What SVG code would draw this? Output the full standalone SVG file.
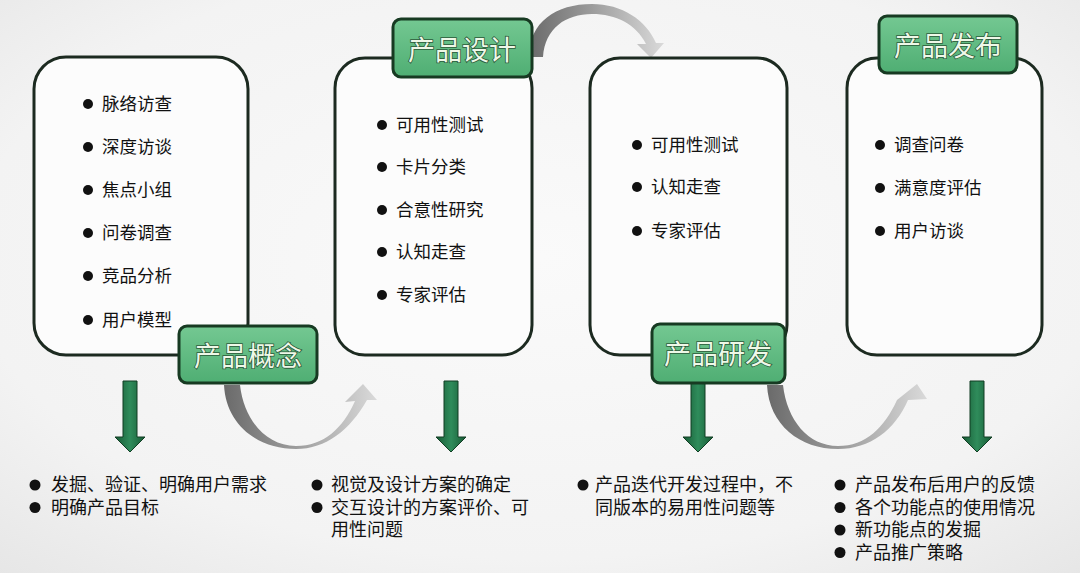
<svg xmlns="http://www.w3.org/2000/svg" width="1080" height="573" viewBox="0 0 1080 573">
  <defs>
    <radialGradient id="bg" cx="0.5" cy="0.45" r="0.75">
      <stop offset="0" stop-color="#fafafa"/>
      <stop offset="0.7" stop-color="#f3f3f3"/>
      <stop offset="1" stop-color="#e6e6e6"/>
    </radialGradient>
    <linearGradient id="lbl" x1="0" y1="0" x2="0" y2="1">
      <stop offset="0" stop-color="#74c892"/>
      <stop offset="1" stop-color="#4fae73"/>
    </linearGradient>
    <linearGradient id="down" x1="0" y1="0" x2="1" y2="0">
      <stop offset="0" stop-color="#175a35"/>
      <stop offset="0.5" stop-color="#2f8c5b"/>
      <stop offset="1" stop-color="#175a35"/>
    </linearGradient>
    <linearGradient id="curve" x1="0" y1="0" x2="1" y2="0">
      <stop offset="0" stop-color="#6a6a6a"/>
      <stop offset="0.45" stop-color="#9a9a9a"/>
      <stop offset="1" stop-color="#dadada"/>
    </linearGradient>
    <style>
      .box { fill: #fcfcfc; stroke: #1c2a20; stroke-width: 3; }
      .lbl { fill: url(#lbl); stroke: #173a22; stroke-width: 3; }
      .lt { font-family: "Noto Sans CJK SC", "Noto Sans", sans-serif; font-size: 27px; fill: #eef8e8; stroke: #2c5a3a; stroke-width: 1.6; paint-order: stroke; text-anchor: middle; }
      .it { font-family: "Noto Sans CJK SC", "Noto Sans", sans-serif; font-size: 17.5px; fill: #111; }
      .bt { font-family: "Noto Sans CJK SC", "Noto Sans", sans-serif; font-size: 18px; fill: #111; }
      .dot { fill: #111; }
      .down { fill: url(#down); stroke: #113d23; stroke-width: 1; }
      .curve { fill: url(#curve); }
    </style>
  </defs>
  <rect x="0" y="0" width="1080" height="573" fill="url(#bg)"/>

  <g id="connectors">
    <path class="curve" d="M 529 57 C 529 22 556 4 592 4 C 622 4 646 20 656 43 L 664 43 L 651 58 L 637 44 L 646 44 C 636 24 616 14 592 14 C 566 14 545 28 543 57 Z"/>
    <path class="curve" d="M 224 385 C 226 425 258 449 296 449 C 326 449 350 430 367 400 L 377 400 L 363 384 L 345 402 L 355 401 C 343 428 324 446 296 446 C 266 446 244 420 240 385 Z"/>
    <path class="curve" d="M 767 385 C 769 425 800 449 838 449 C 870 449 895 430 908 400 L 927 399 L 917 384 L 897 400 L 897 400 C 884 428 866 446 838 446 C 808 446 787 420 783 385 Z"/>
    <path class="down" d="M 123 381 H 137 V 437 H 145 L 130 452 L 115 437 H 123 Z"/>
    <path class="down" d="M 444 381 H 458 V 437 H 466 L 451 452 L 436 437 H 444 Z"/>
    <path class="down" d="M 691 381 H 705 V 437 H 713 L 698 452 L 683 437 H 691 Z"/>
    <path class="down" d="M 970 381 H 984 V 437 H 992 L 977 452 L 962 437 H 970 Z"/>
  </g>

  <g id="node-concept">
    <rect class="box" x="34" y="57" width="214" height="298" rx="32"/>
    <circle class="dot" cx="88" cy="104" r="5"/><text class="it" x="102" y="110">脉络访查</text>
    <circle class="dot" cx="88" cy="147" r="5"/><text class="it" x="102" y="153">深度访谈</text>
    <circle class="dot" cx="88" cy="190" r="5"/><text class="it" x="102" y="196">焦点小组</text>
    <circle class="dot" cx="88" cy="233" r="5"/><text class="it" x="102" y="239">问卷调查</text>
    <circle class="dot" cx="88" cy="276" r="5"/><text class="it" x="102" y="282">竞品分析</text>
    <circle class="dot" cx="88" cy="320" r="5"/><text class="it" x="102" y="326">用户模型</text>
    <rect class="lbl" x="179" y="326" width="138" height="57" rx="8"/>
    <text class="lt" x="248" y="366">产品概念</text>
  </g>

  <g id="node-design">
    <rect class="box" x="335" y="58" width="197" height="297" rx="30"/>
    <circle class="dot" cx="382" cy="125" r="5"/><text class="it" x="396" y="131">可用性测试</text>
    <circle class="dot" cx="382" cy="167" r="5"/><text class="it" x="396" y="173">卡片分类</text>
    <circle class="dot" cx="382" cy="210" r="5"/><text class="it" x="396" y="216">合意性研究</text>
    <circle class="dot" cx="382" cy="252" r="5"/><text class="it" x="396" y="258">认知走查</text>
    <circle class="dot" cx="382" cy="295" r="5"/><text class="it" x="396" y="301">专家评估</text>
    <rect class="lbl" x="393" y="19" width="139" height="58" rx="8"/>
    <text class="lt" x="462" y="60">产品设计</text>
  </g>

  <g id="node-dev">
    <rect class="box" x="590" y="58" width="197" height="297" rx="30"/>
    <circle class="dot" cx="637" cy="145" r="5"/><text class="it" x="651" y="151">可用性测试</text>
    <circle class="dot" cx="637" cy="187" r="5"/><text class="it" x="651" y="193">认知走查</text>
    <circle class="dot" cx="637" cy="231" r="5"/><text class="it" x="651" y="237">专家评估</text>
    <rect class="lbl" x="652" y="324" width="133" height="59" rx="8"/>
    <text class="lt" x="718" y="364">产品研发</text>
  </g>

  <g id="node-release">
    <rect class="box" x="847" y="58" width="195" height="297" rx="30"/>
    <circle class="dot" cx="880" cy="145" r="5"/><text class="it" x="894" y="151">调查问卷</text>
    <circle class="dot" cx="880" cy="188" r="5"/><text class="it" x="894" y="194">满意度评估</text>
    <circle class="dot" cx="880" cy="231" r="5"/><text class="it" x="894" y="237">用户访谈</text>
    <rect class="lbl" x="879" y="16" width="138" height="57" rx="8"/>
    <text class="lt" x="948" y="56">产品发布</text>
  </g>

  <g id="notes-concept">
    <circle class="dot" cx="35" cy="485" r="5.5"/>
    <circle class="dot" cx="35" cy="507.5" r="5.5"/>
    <text class="bt"><tspan x="51" y="491">发掘、验证、明确用户需求</tspan><tspan x="51" y="513.5">明确产品目标</tspan></text>
  </g>
  <g id="notes-design">
    <circle class="dot" cx="317" cy="485" r="5.5"/>
    <circle class="dot" cx="317" cy="507.5" r="5.5"/>
    <text class="bt"><tspan x="331" y="491">视觉及设计方案的确定</tspan><tspan x="331" y="513.5">交互设计的方案评价、可</tspan><tspan x="331" y="536">用性问题</tspan></text>
  </g>
  <g id="notes-dev">
    <circle class="dot" cx="583" cy="485" r="5.5"/>
    <text class="bt"><tspan x="595" y="491">产品迭代开发过程中，不</tspan><tspan x="595" y="513.5">同版本的易用性问题等</tspan></text>
  </g>
  <g id="notes-release">
    <circle class="dot" cx="840" cy="485" r="5.5"/>
    <circle class="dot" cx="840" cy="507.5" r="5.5"/>
    <circle class="dot" cx="840" cy="530" r="5.5"/>
    <circle class="dot" cx="840" cy="552.5" r="5.5"/>
    <text class="bt"><tspan x="855" y="491">产品发布后用户的反馈</tspan><tspan x="855" y="513.5">各个功能点的使用情况</tspan><tspan x="855" y="536">新功能点的发掘</tspan><tspan x="855" y="558.5">产品推广策略</tspan></text>
  </g>
</svg>
